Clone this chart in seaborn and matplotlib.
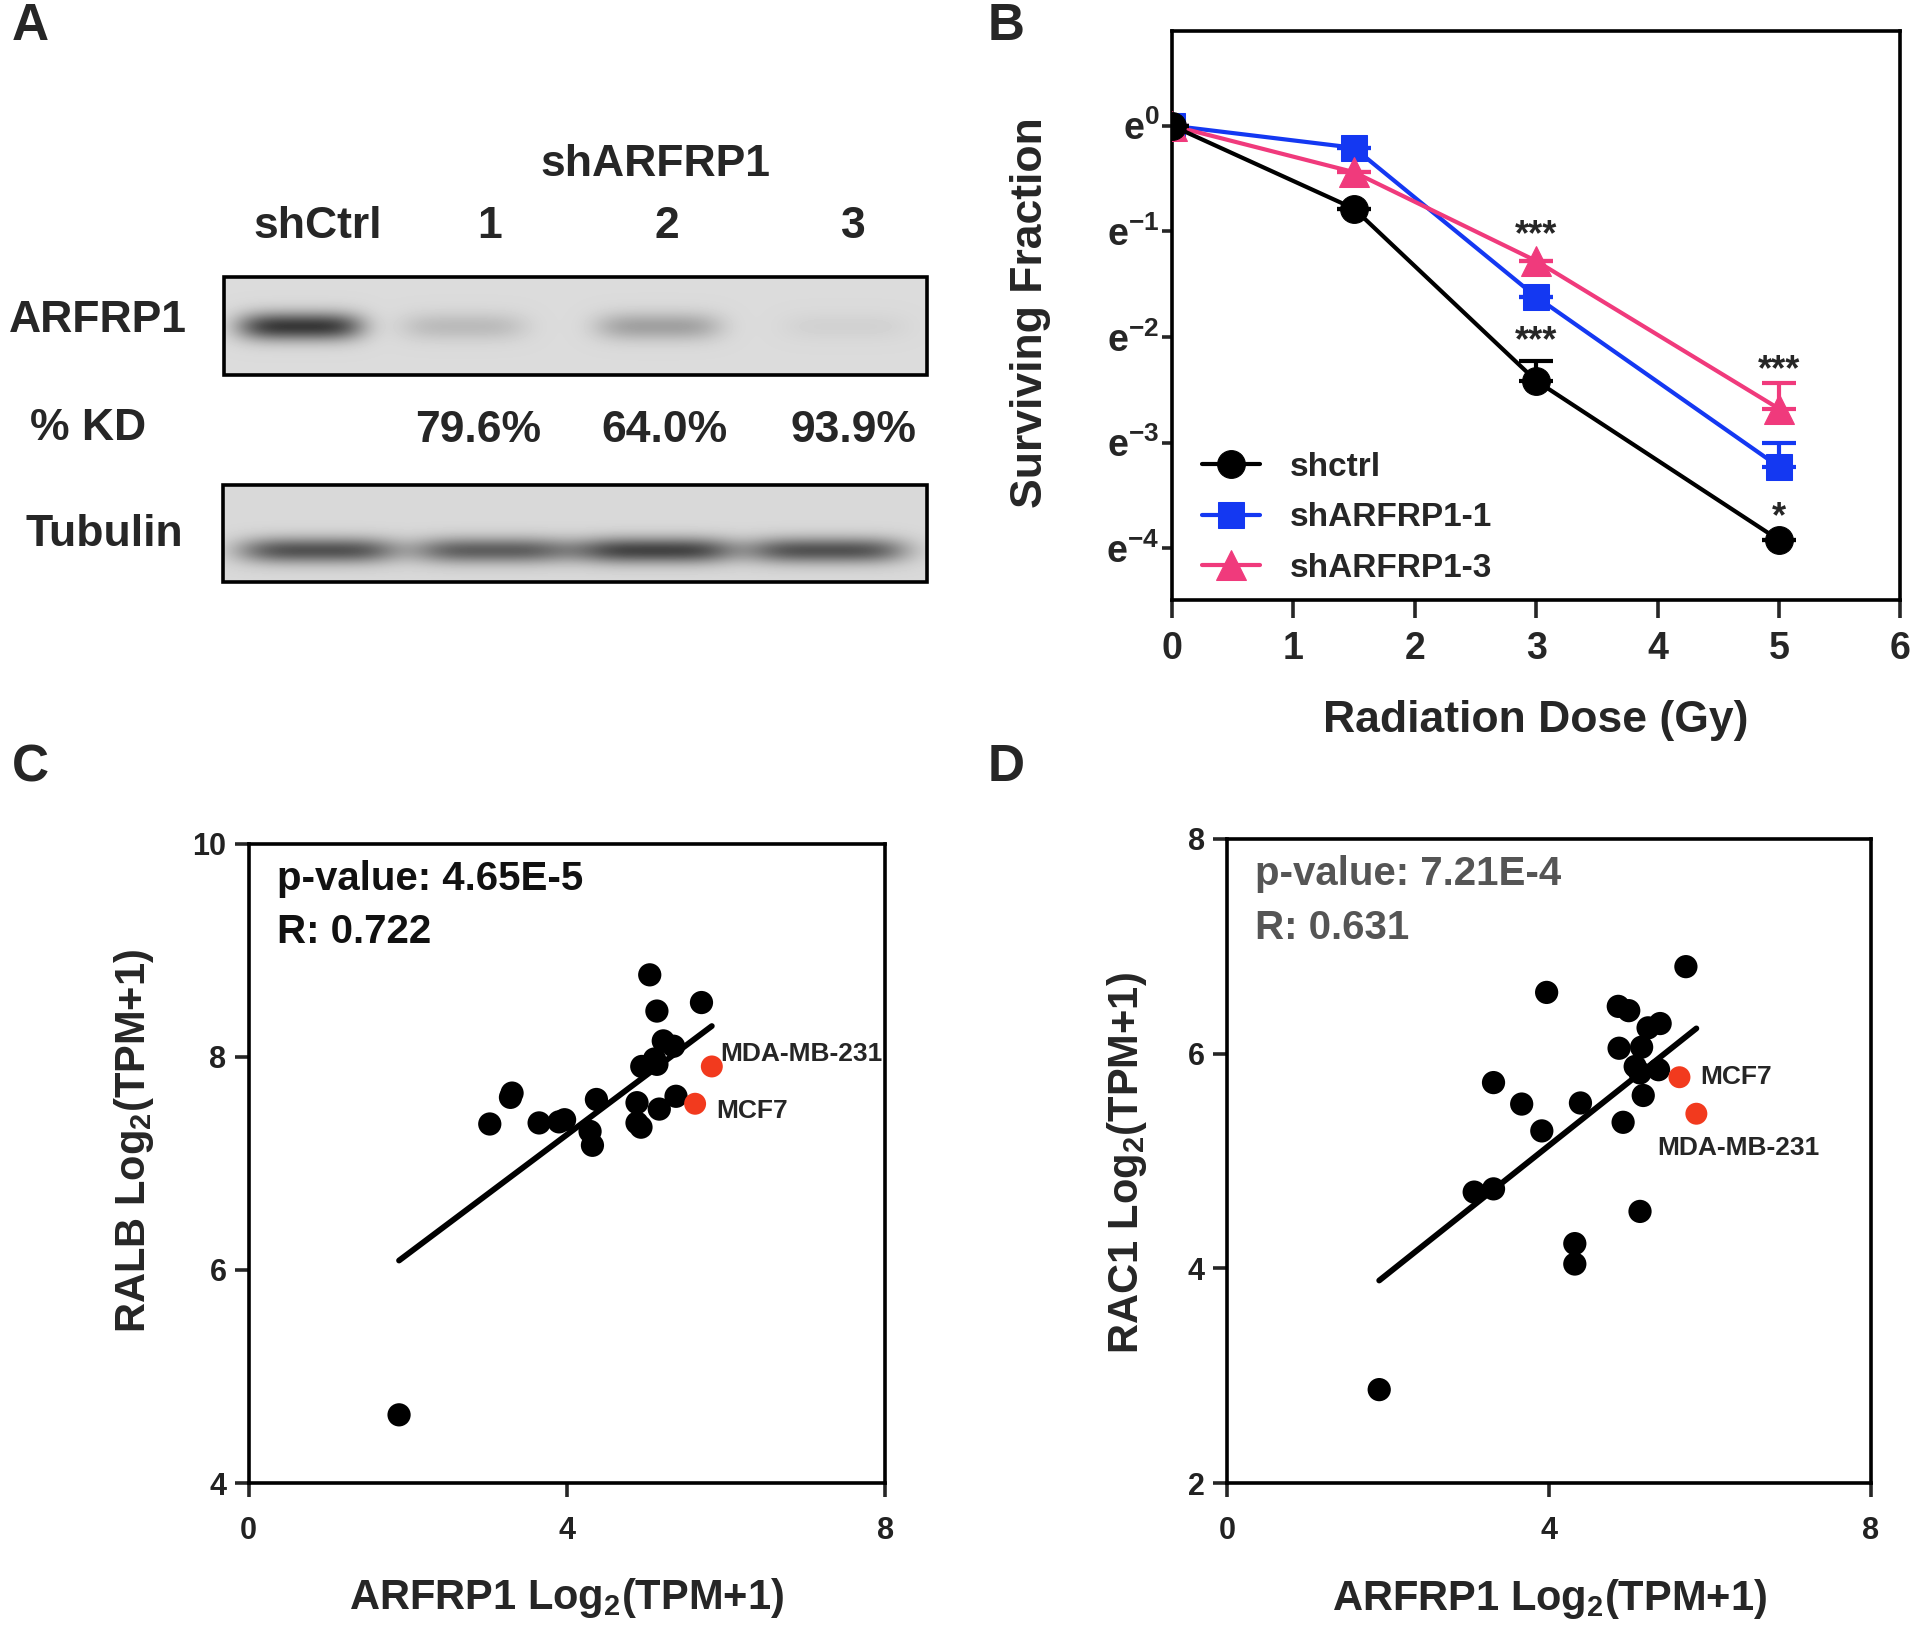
import numpy as np
import pandas as pd
import seaborn as sns
import matplotlib

matplotlib.use("Agg")
import matplotlib.pyplot as plt
from matplotlib.patches import Rectangle
from matplotlib.ticker import FixedLocator, FixedFormatter, NullLocator

# ---------------- data ----------------
# A: western blot (relative band intensity per lane)
lanes = ["shCtrl", "1", "2", "3"]
knockdown = ["", "79.6%", "64.0%", "93.9%"]
arfrp1_band = [1.0, 0.20, 0.36, 0.06]
tubulin_band = [0.88, 0.80, 0.98, 0.88]

# B: clonogenic survival
dose = [0, 1.5, 3, 5]
sf_shctrl = [1.0, 0.456, 0.0894, 0.0198]
sf_sh1 = [1.0, 0.811, 0.198, 0.0396]
sf_sh3 = [1.0, 0.644, 0.278, 0.0686]
err_shctrl = [0, 0, 0.018, 0]
err_sh1 = [0, 0, 0, 0.010]
err_sh3 = [0, 0, 0, 0.019]
sig_marks = [("shARFRP1-3", 3, "***"), ("shctrl", 3, "***"),
             ("shARFRP1-3", 5, "***"), ("shctrl", 5, "*")]

# C: ARFRP1 vs RALB
c_x = [1.89, 3.03, 3.29, 3.31, 3.65, 3.90, 3.97, 4.29, 4.32, 4.37, 4.88, 4.88,
       4.93, 4.94, 5.04, 5.13, 5.13, 5.10, 5.16, 5.21, 5.34, 5.37, 5.69]
c_y = [4.64, 7.37, 7.62, 7.66, 7.38, 7.39, 7.41, 7.30, 7.17, 7.60, 7.57, 7.38,
       7.34, 7.91, 8.77, 8.43, 7.93, 7.98, 7.51, 8.15, 8.10, 7.63, 8.51]
c_lines = ["MDA-MB-231", "MCF7"]
c_hx = [5.82, 5.61]
c_hy = [7.91, 7.56]
c_fit = (0.560, 5.03)
c_stats = ["p-value: 4.65E-5", "R: 0.722"]

# D: ARFRP1 vs RAC1
d_x = [1.89, 3.07, 3.31, 3.31, 3.66, 3.91, 3.97, 4.39, 4.32, 4.32, 4.86, 4.99,
       4.87, 4.92, 5.07, 5.13, 5.15, 5.17, 5.13, 5.23, 5.38, 5.36, 5.70]
d_y = [2.87, 4.71, 4.74, 5.73, 5.53, 5.28, 6.57, 5.54, 4.23, 4.04, 6.44, 6.40,
       6.05, 5.36, 5.88, 5.82, 6.06, 5.61, 4.53, 6.24, 6.28, 5.85, 6.81]
d_lines = ["MCF7", "MDA-MB-231"]
d_hx = [5.62, 5.83]
d_hy = [5.78, 5.44]
d_fit = (0.596, 2.76)
d_stats = ["p-value: 7.21E-4", "R: 0.631"]

# ---------------- style ----------------
sns.set_theme(style="ticks")
plt.rcParams["font.family"] = ["Liberation Sans", "DejaVu Sans"]
plt.rcParams["font.weight"] = "bold"
plt.rcParams["axes.labelweight"] = "bold"
plt.rcParams["mathtext.fontset"] = "custom"
plt.rcParams["mathtext.rm"] = "Liberation Sans:bold"
plt.rcParams["mathtext.bf"] = "Liberation Sans:bold"
plt.rcParams["mathtext.default"] = "bf"

LW = 2.6
RED = "#f23a1e"

fig = plt.figure(figsize=(19.2, 16.34), dpi=100)

# ---------------- panel A ----------------
ax_a = fig.add_axes([0, 1 - 620 / 1634, 0.5, 620 / 1634])
ax_a.set_xlim(0, 960)
ax_a.set_ylim(620, 0)
ax_a.axis("off")


def draw_blot(ax, box, lane_x, levels, band_w, band_h, band_y, bg, depth):
    x0, y0, x1, y1 = box
    w, h = int(x1 - x0), int(y1 - y0)
    xx, yy = np.meshgrid(np.arange(w) + x0, np.arange(h) + y0)
    img = np.full((h, w), bg, dtype=float)
    for cx, lvl in zip(lane_x, levels):
        img -= depth * lvl * np.exp(-((xx - cx) / band_w) ** 4 - ((yy - band_y) / band_h) ** 2)
    ax.imshow(img, cmap="gray", vmin=0, vmax=1, extent=(x0, x1, y1, y0),
              aspect="auto", interpolation="bilinear")
    ax.add_patch(Rectangle((x0, y0), x1 - x0, y1 - y0, fill=False, lw=LW, ec="black"))


draw_blot(ax_a, (224, 277, 927, 375), [300, 463, 658, 845], arfrp1_band,
          62, 14, 326, 0.86, 0.64)
draw_blot(ax_a, (223, 485, 927, 582), [318, 493, 655, 826], tubulin_band,
          80, 13, 550, 0.85, 0.6)

ta = dict(fontsize=32, fontweight="bold", ha="center", va="center")
ax_a.text(655, 165, "shARFRP1", **ta)
for lx, lab in zip([318, 490, 667, 853], lanes):
    ax_a.text(lx, 227, lab, **ta)
for lx, kd in zip([318, 478, 664, 853], knockdown):
    if kd:
        ax_a.text(lx, 431, kd, **ta)
ax_a.text(98, 321, "ARFRP1", **ta)
ax_a.text(88, 429, "% KD", **ta)
ax_a.text(104, 535, "Tubulin", **ta)

# ---------------- panel B ----------------
ax_b = fig.add_axes([0.6103, 0.6328, 0.3795, 0.3485])
ax_b.set_yscale("log", base=np.e)
BLW = 3.0
series = [
    ("shctrl", sf_shctrl, err_shctrl, "black", "o", 20, 4),
    ("shARFRP1-1", sf_sh1, err_sh1, "#1438f2", "s", 19, 2.5),
    ("shARFRP1-3", sf_sh3, err_sh3, "#f03a7c", "^", 21, 3),
]
handles = {}
for name, sf, err, col, mk, ms, z in series:
    ax_b.errorbar(dose, sf, yerr=[np.zeros(len(err)), err], fmt="none", ecolor=col,
                  elinewidth=BLW, capsize=12, capthick=BLW, zorder=z - 0.2)
    sns.lineplot(x=dose, y=sf, color=col, marker=mk, markersize=ms, linewidth=BLW,
                 markeredgecolor=col, label=name, zorder=z, ax=ax_b, legend=False)
    handles[name] = ax_b.lines[-1]

lookup = {s[0]: (s[1], s[2]) for s in series}
sig_offset = {("shARFRP1-3", 3): 18, ("shctrl", 3): 14,
              ("shARFRP1-3", 5): 9, ("shctrl", 5): 16}
for name, x, txt in sig_marks:
    sf, err = lookup[name]
    i = dose.index(x)
    ax_b.annotate(txt, xy=(x, sf[i] + err[i]), xytext=(0, sig_offset[(name, x)]),
                  textcoords="offset points", ha="center", va="center",
                  fontsize=26, fontweight="bold")

ax_b.set_xlim(0, 6)
ax_b.set_ylim(np.exp(-4.49), np.exp(0.90))
ax_b.xaxis.set_major_locator(FixedLocator(range(7)))
yt = [0, -1, -2, -3, -4]
ax_b.yaxis.set_major_locator(FixedLocator(np.exp(yt)))
ax_b.yaxis.set_major_formatter(FixedFormatter([r"$\mathbf{e^{%d}}$" % v for v in yt]))
ax_b.yaxis.set_minor_locator(NullLocator())
ax_b.tick_params(axis="x", length=13, width=LW, labelsize=27, pad=9)
ax_b.tick_params(axis="y", length=7, width=LW, labelsize=27, pad=2)
for sp in ax_b.spines.values():
    sp.set_linewidth(LW)
    sp.set_color("black")
ax_b.set_xlabel("Radiation Dose (Gy)", fontsize=32)
ax_b.set_ylabel("Surviving Fraction", fontsize=32)
ax_b.xaxis.set_label_coords(0.5, -0.175)
ax_b.yaxis.set_label_coords(-0.166, 0.505)
ax_b.legend([handles[s[0]] for s in series], [s[0] for s in series],
            loc="lower left", bbox_to_anchor=(0.0, -0.024), frameon=False,
            fontsize=24, handlelength=1.75, handletextpad=0.9, labelspacing=0.58,
            numpoints=1)

# ---------------- panels C, D ----------------


def corr_panel(rect, xs, ys, hx, hy, names, offsets, fit, stats, stat_col,
               ylim, yticks, ylabel, ylab_pos):
    ax = fig.add_axes(rect)
    sns.scatterplot(x=xs, y=ys, color="black", s=280, edgecolor="none", ax=ax, zorder=3)
    sns.scatterplot(x=hx, y=hy, color=RED, s=250, edgecolor="none", ax=ax, zorder=3)
    allx = list(xs) + list(hx)
    fx = np.array([min(allx), max(allx)])
    sns.lineplot(x=fx, y=fit[0] * fx + fit[1], color="black", linewidth=4.2, ax=ax, zorder=2)
    for x, y, n, off in zip(hx, hy, names, offsets):
        ax.annotate(n, xy=(x, y), xytext=off, textcoords="offset points",
                    ha="left", va="center", fontsize=19, fontweight="bold")
    ax.text(0.044, 0.945, stats[0], transform=ax.transAxes, fontsize=29,
            fontweight="bold", color=stat_col, va="center")
    ax.text(0.044, 0.862, stats[1], transform=ax.transAxes, fontsize=29,
            fontweight="bold", color=stat_col, va="center")
    ax.set_xlim(0, 8)
    ax.set_ylim(*ylim)
    ax.set_xticks([0, 4, 8])
    ax.set_yticks(yticks)
    ax.tick_params(length=10, width=LW, labelsize=22, labelcolor="#222222")
    ax.tick_params(axis="x", pad=14)
    ax.tick_params(axis="y", pad=6)
    for sp in ax.spines.values():
        sp.set_visible(True)
        sp.set_linewidth(LW)
        sp.set_color("black")
    ax.set_xlabel(r"ARFRP1 Log$_2$(TPM+1)", fontsize=30)
    ax.set_ylabel(ylabel, fontsize=30)
    ax.xaxis.set_label_coords(0.5, -0.146)
    ax.yaxis.set_label_coords(*ylab_pos)
    return ax


corr_panel([0.1295, 0.0924, 0.3316, 0.3912], c_x, c_y, c_hx, c_hy, c_lines,
           [(6, 9), (15, -5)], c_fit, c_stats, "#111111",
           (4, 10), [4, 6, 8, 10], r"RALB Log$_2$(TPM+1)", (-0.145, 0.535))
corr_panel([0.6391, 0.0924, 0.3354, 0.3942], d_x, d_y, d_hx, d_hy, d_lines,
           [(15, 0), (-28, -25)], d_fit, d_stats, "#555555",
           (2, 8), [2, 4, 6, 8], r"RAC1 Log$_2$(TPM+1)", (-0.122, 0.496))

# panel letters
for letter, x, y in [("A", 0.016, 0.9835), ("B", 0.524, 0.9835),
                     ("C", 0.016, 0.530), ("D", 0.524, 0.530)]:
    fig.text(x, y, letter, fontsize=37, fontweight="bold", ha="center", va="center")

fig.savefig("out.png", dpi=100)
